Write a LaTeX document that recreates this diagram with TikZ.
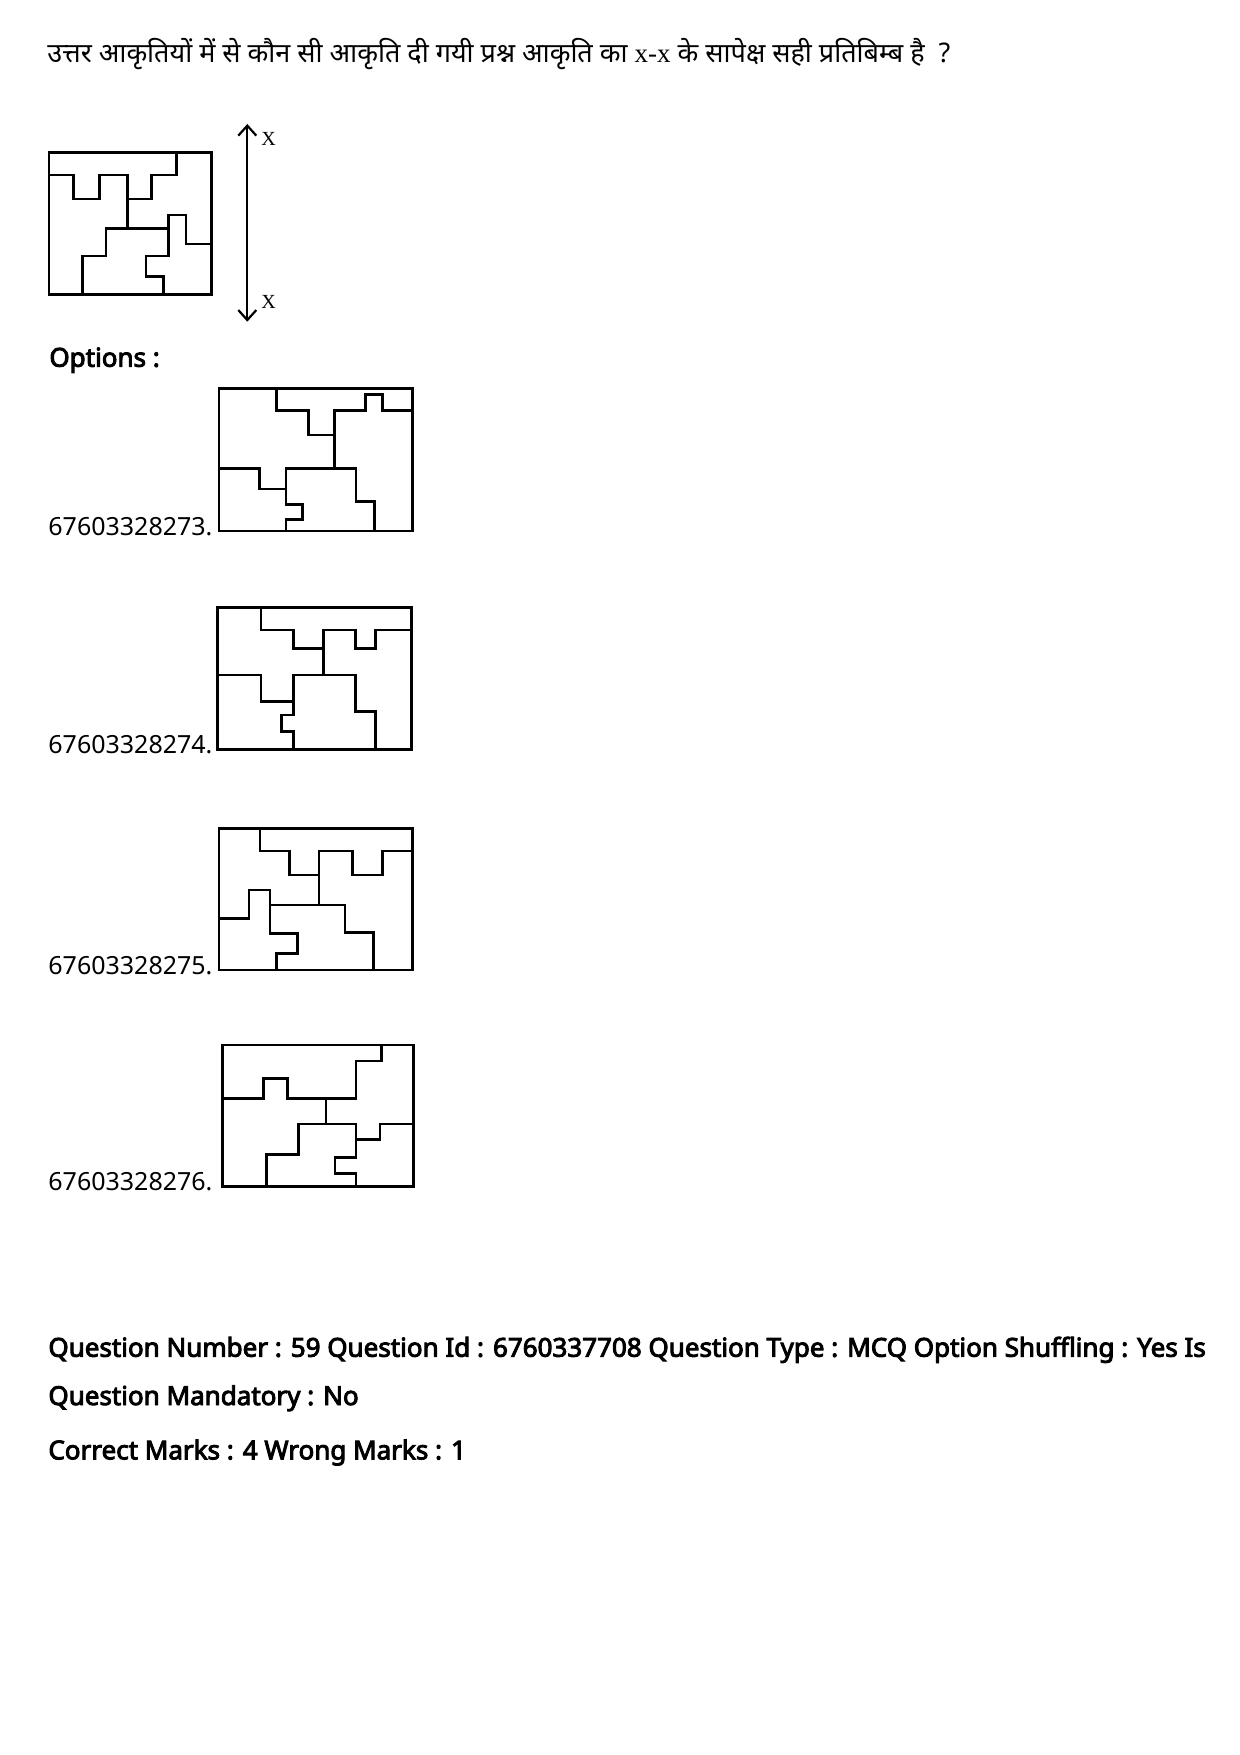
\documentclass[tikz,border=0pt]{standalone}
\usepackage{fontspec}
\setmainfont{Noto Sans}
\newfontfamily\hindifont[Script=Devanagari]{Noto Sans}
\newfontfamily\boldsans[FakeBold=3.6]{Noto Sans}
\newfontfamily\xfont{Liberation Serif}
\usetikzlibrary{arrows.meta}
\def\txtsize{\fontsize{12.5pt}{15pt}\selectfont}
\def\headsize{\boldsans\fontsize{13pt}{15pt}\selectfont}

\begin{document}
\begin{tikzpicture}[x=0.5pt, y=-0.5pt,
		box/.style={line width=1.3pt, line join=miter},
		axis/.style={line width=1.1pt, {Straight Barb[length=5pt,width=9pt]}-{Straight Barb[length=5pt,width=9pt]}},
		txt/.style={anchor=base west, inner sep=0pt}]
			%%%%% START %%%%%
			\useasboundingbox[fill=white] (0,0) rectangle (1240,1755);
			
			\node[txt] (question) at (47, 63) {\hindifont\fontsize{13.5pt}{15pt}\selectfont उत्तर आकृतियों में से कौन सी आकृति दी गयी प्रश्न आकृति का {\xfont x-x} के सापेक्ष सही प्रतिबिम्ब है \ ?};
			
			% question figure
			\draw[box] (49, 152.3) rectangle (211.7, 294.3);
			\draw[box] (49, 175) -- (73.3, 175) -- (73.3, 199) -- (99.3, 199) -- (99.3, 175) -- (127.3, 175) -- (127.3, 228.3);
			\draw[box] (127.3, 199) -- (151.7, 199) -- (151.7, 175) -- (176.7, 175) -- (176.7, 152.3);
			\draw[box] (82.3, 294.3) -- (82.3, 256) -- (106, 256) -- (106, 228.3) -- (168.3, 228.3) -- (168.3, 215) -- (186, 215) -- (186, 244) -- (211.7, 244);
			\draw[box] (168.3, 228.3) -- (168.3, 256) -- (146, 256) -- (146, 276.7) -- (163.3, 276.7) -- (163.3, 294.3);
			
			\coordinate (xtop) at (247.3, 124);
			\coordinate (xbot) at (247.3, 321.7);
			\draw[axis] (xtop) -- (xbot);
			\node[txt] (xlabtop) at (261, 146) {\xfont\fontsize{10pt}{12pt}\selectfont X};
			\node[txt] (xlabbot) at (261, 308) {\xfont\fontsize{10pt}{12pt}\selectfont X};
			
			\node[txt] (options) at (49, 366.7) {\headsize Options :};
			
			% option 1
			\draw[box] (219, 388.3) rectangle (412.3, 531);
			\draw[box] (276.7, 388.3) -- (276.7, 410.7) -- (308.3, 410.7) -- (308.3, 435) -- (334.3, 435);
			\draw[box] (334.3, 468.3) -- (334.3, 410.7) -- (365.7, 410.7) -- (365.7, 394.3) -- (382.7, 394.3) -- (382.7, 410.7) -- (412.3, 410.7);
			\draw[box] (219, 468.3) -- (259.3, 468.3) -- (259.3, 489) -- (286, 489);
			\draw[box] (286, 531) -- (286, 519.3) -- (302.3, 519.3) -- (302.3, 504.3) -- (286, 504.3) -- (286, 468.3) -- (356, 468.3) -- (356, 501.7) -- (374.3, 501.7) -- (374.3, 531);
			\node[txt] (optA) at (48, 535) {\txtsize 67603328273.};
			
			% option 2
			\draw[box] (217.7, 607.7) rectangle (411.7, 749.3);
			\draw[box] (261, 607.7) -- (261, 630) -- (293.3, 630) -- (293.3, 648.7) -- (323.3, 648.7);
			\draw[box] (323.3, 675) -- (323.3, 630) -- (355.7, 630) -- (355.7, 648.7) -- (375.7, 648.7) -- (375.7, 630) -- (411.7, 630);
			\draw[box] (217.7, 675) -- (261, 675) -- (261, 701.7) -- (293.3, 701.7);
			\draw[box] (293.3, 749.3) -- (293.3, 731.7) -- (281.7, 731.7) -- (281.7, 715) -- (293.3, 715) -- (293.3, 675) -- (355.7, 675) -- (355.7, 711.7) -- (375.7, 711.7) -- (375.7, 749.3);
			\node[txt] (optB) at (48, 753) {\txtsize 67603328274.};
			
			% option 3
			\draw[box] (219, 828.3) rectangle (412.3, 970);
			\draw[box] (260, 828.3) -- (260, 851) -- (289.3, 851) -- (289.3, 875) -- (319, 875);
			\draw[box] (319, 905) -- (319, 851) -- (352.3, 851) -- (352.3, 875) -- (382.7, 875) -- (382.7, 851) -- (412.3, 851);
			\draw[box] (219, 918.3) -- (249, 918.3) -- (249, 890) -- (270, 890) -- (270, 933.3) -- (297.7, 933.3) -- (297.7, 953.3) -- (276.7, 953.3) -- (276.7, 970);
			\draw[box] (270, 905) -- (345, 905) -- (345, 932.7) -- (373.3, 932.7) -- (373.3, 970);
			\node[txt] (optC) at (48, 974) {\txtsize 67603328275.};
			
			% option 4
			\draw[box] (222.3, 1045) rectangle (413.3, 1186.7);
			\draw[box] (381.7, 1045) -- (381.7, 1061) -- (356, 1061) -- (356, 1098.3) -- (287.7, 1098.3) -- (287.7, 1078.3) -- (263.3, 1078.3) -- (263.3, 1098.3) -- (222.3, 1098.3);
			\draw[box] (326, 1098.3) -- (326, 1124);
			\draw[box] (266.7, 1186.7) -- (266.7, 1154.3) -- (298.3, 1154.3) -- (298.3, 1124) -- (356, 1124) -- (356, 1157.3) -- (335, 1157.3) -- (335, 1173.3) -- (356, 1173.3) -- (356, 1186.7);
			\draw[box] (356, 1124) -- (356, 1139.3) -- (380, 1139.3) -- (380, 1124) -- (413.3, 1124);
			\node[txt] (optD) at (48, 1190) {\txtsize 67603328276.};
			
			\node[txt] (qinfo) at (48, 1356.7) {\headsize Question Number : 59 Question Id : 6760337708 Question Type : MCQ Option Shuffling : Yes Is};
			\node[txt] (qmand) at (48, 1405) {\headsize Question Mandatory : No};
			\node[txt] (qmarks) at (48, 1459.3) {\headsize Correct Marks : 4 Wrong Marks : 1};
			
			%%%%% END %%%%%
		\end{tikzpicture}
\end{document}
